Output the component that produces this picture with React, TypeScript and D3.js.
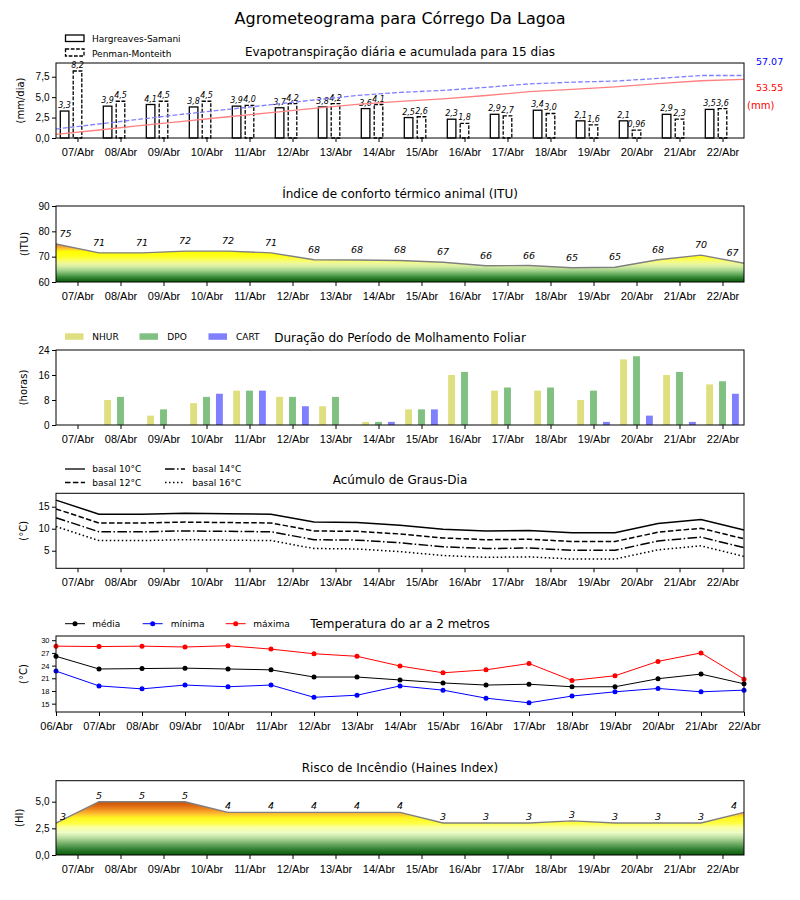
import React, { useRef, useEffect } from 'react';
import * as d3 from 'd3';

// ---- data ----
const days = ['07/Abr', '08/Abr', '09/Abr', '10/Abr', '11/Abr', '12/Abr', '13/Abr', '14/Abr',
    '15/Abr', '16/Abr', '17/Abr', '18/Abr', '19/Abr', '20/Abr', '21/Abr', '22/Abr'];
const tempDays = ['06/Abr', ...days];

const etHargreaves = [3.3, 3.9, 4.1, 3.8, 3.9, 3.7, 3.8, 3.6, 2.5, 2.3, 2.9, 3.4, 2.1, 2.1, 2.9, 3.5];
const etPenman = [8.2, 4.5, 4.5, 4.5, 4.0, 4.2, 4.2, 4.1, 2.6, 1.8, 2.7, 3.0, 1.6, 0.96, 2.3, 3.6];
const accHargreaves = [3.4, 7.3, 11.5, 15.4, 19.4, 23.2, 27.1, 30.8, 33.4, 35.8, 38.8, 42.3, 44.5, 46.7, 49.7, 52.3, 53.55];
const accPenman = [8.2, 12.8, 17.4, 22.0, 26.1, 30.4, 34.7, 38.9, 41.6, 43.5, 46.3, 49.4, 51.0, 52.0, 54.4, 57.07, 57.07];
const accLabels = ['57.07', '53.55'];

const ituValues = [75.0, 71.5, 71.5, 72.2, 72.2, 71.5, 68.8, 68.7, 68.5, 67.8, 66.4, 66.5, 65.6, 65.8, 68.8, 70.6, 67.4];
const ituLabels = ['75', '71', '71', '72', '72', '71', '68', '68', '68', '67', '66', '66', '65', '65', '68', '70', '67'];

const wetNHUR = [0, 8, 3, 7, 11, 9, 6, 1, 5, 16, 11, 11, 8, 21, 16, 13];
const wetDPO = [0, 9, 5, 9, 11, 9, 9, 1, 5, 17, 12, 12, 11, 22, 17, 14];
const wetCART = [0, 0, 0, 10, 11, 6, 0, 1, 5, 0, 0, 0, 1, 3, 1, 10];

const gdBasal10 = [16.5, 13.3, 13.3, 13.5, 13.4, 13.3, 11.5, 11.4, 10.8, 9.9, 9.5, 9.6, 9.1, 9.1, 11.2, 12.1, 9.7];
const gdBasal12 = [14.5, 11.3, 11.3, 11.5, 11.4, 11.3, 9.5, 9.4, 8.8, 7.9, 7.5, 7.6, 7.1, 7.1, 9.2, 10.1, 7.7];
const gdBasal14 = [12.5, 9.3, 9.3, 9.5, 9.4, 9.3, 7.5, 7.4, 6.8, 5.9, 5.5, 5.6, 5.1, 5.1, 7.2, 8.1, 5.7];
const gdBasal16 = [10.5, 7.3, 7.3, 7.5, 7.4, 7.3, 5.5, 5.4, 4.8, 3.9, 3.5, 3.6, 3.1, 3.1, 5.2, 6.1, 3.7];

const tMean = [26.2, 23.2, 23.3, 23.4, 23.2, 23.0, 21.3, 21.3, 20.6, 19.9, 19.4, 19.6, 19.0, 19.0, 20.9, 22.0, 19.7];
const tMin = [22.7, 19.2, 18.5, 19.4, 19.0, 19.4, 16.5, 17.0, 19.2, 18.2, 16.3, 15.2, 16.8, 17.8, 18.6, 17.8, 18.2];
const tMax = [28.6, 28.5, 28.6, 28.4, 28.7, 27.9, 26.8, 26.2, 23.9, 22.3, 23.0, 24.5, 20.5, 21.6, 25.0, 27.0, 20.8];

const haines = [3.0, 5.0, 5.0, 5.0, 4.0, 4.0, 4.0, 4.0, 4.0, 3.0, 3.0, 3.0, 3.2, 3.0, 3.0, 3.0, 4.0];
const hainesLabels = ['3', '5', '5', '5', '4', '4', '4', '4', '4', '3', '3', '3', '3', '3', '3', '3', '4'];

// colour ramps (value -> colour)
const ituStops: [number, string][] = [
    [60, '#0b5e0b'], [61, '#1f701f'], [62, '#3c8c3a'], [63, '#62a95c'], [64, '#8cc47e'],
    [65, '#b2db94'], [66, '#d2eca2'], [67, '#e8f6a2'], [68, '#f4fb80'], [69, '#fbfd50'],
    [70, '#ffff20'], [72, '#ffff00'], [73, '#ffcc30'], [74, '#f8a030'], [75, '#ee7a1c']];
const hainesStops: [number, string][] = [
    [0, '#0a5a0a'], [0.5, '#2e7d2e'], [1.0, '#6aa860'], [1.6, '#b8dca0'], [2.1, '#eefcc8'],
    [2.6, '#faffa0'], [3.0, '#ffff40'], [3.5, '#fff520'], [3.8, '#ffc830'], [4.1, '#f8a028'],
    [4.5, '#e47418'], [5.0, '#c84c00']];

const X0 = 56, X1 = 744;
const FONT = 'DejaVu Sans, sans-serif';
const commaFmt = (d: number) => d3.format('.1f')(d).replace('.', ',');
const barFmt = (d: number) => d3.format('.2r')(d).replace('.', ',');

export default function App() {
    const svgRef = useRef<SVGSVGElement>(null);

    useEffect(() => {
        if (!svgRef.current) return;
        const svg = d3.select(svgRef.current);
        svg.selectAll('*').remove();
        svg.attr('font-family', FONT);
        const defs = svg.append('defs');

        const xDay = d3.scaleLinear().domain([-0.5, 15.5]).range([X0, X1]);
        const xPt = d3.scaleLinear().domain([0, 16]).range([X0, X1]);
        const unit = xDay(1) - xDay(0);

        const frame = (top: number, bottom: number) => {
            svg.append('rect')
                .attr('x', X0).attr('y', top)
                .attr('width', X1 - X0).attr('height', bottom - top)
                .attr('fill', 'none').attr('stroke', '#000').attr('stroke-width', 1);
        };

        const xAxis = (scale: d3.ScaleLinear<number, number>, labels: string[], bottom: number) => {
            const a = svg.append('g')
                .attr('transform', `translate(0,${bottom})`)
                .call(d3.axisBottom(scale).tickValues(d3.range(labels.length))
                    .tickFormat((_, i) => labels[i]).tickSize(4).tickSizeOuter(0).tickPadding(6));
            a.select('.domain').remove();
            a.selectAll('text').attr('font-size', 11).attr('fill', '#000');
            a.selectAll('line').attr('stroke', '#000');
        };

        const yAxis = (scale: d3.ScaleLinear<number, number>, ticks: number[], fmt: (d: number) => string, size: number) => {
            const a = svg.append('g')
                .attr('transform', `translate(${X0},0)`)
                .call(d3.axisLeft(scale).tickValues(ticks).tickFormat(d => fmt(d as number))
                    .tickSize(4).tickSizeOuter(0).tickPadding(2.5));
            a.select('.domain').remove();
            a.selectAll('text').attr('font-size', size).attr('fill', '#000');
            a.selectAll('line').attr('stroke', '#000');
        };

        const title = (text: string, y: number) => {
            svg.append('text').attr('x', 400).attr('y', y).attr('text-anchor', 'middle')
                .attr('font-size', 12).text(text);
        };

        const yLabel = (text: string, x: number, top: number, bottom: number) => {
            svg.append('text')
                .attr('transform', `translate(${x},${(top + bottom) / 2}) rotate(-90)`)
                .attr('text-anchor', 'middle').attr('dominant-baseline', 'central')
                .attr('font-size', 10).text(text);
        };

        const gradient = (id: string, scale: d3.ScaleLinear<number, number>, stops: [number, string][]) => {
            const [d0, d1] = scale.domain();
            const lg = defs.append('linearGradient').attr('id', id)
                .attr('gradientUnits', 'userSpaceOnUse')
                .attr('x1', 0).attr('x2', 0)
                .attr('y1', scale(d0)).attr('y2', scale(d1));
            stops.forEach(([v, c]) => {
                lg.append('stop').attr('offset', (v - d0) / (d1 - d0)).attr('stop-color', c);
            });
        };

        // main title
        svg.append('text').attr('x', 400).attr('y', 24).attr('text-anchor', 'middle')
            .attr('font-size', 16).text('Agrometeograma para Córrego Da Lagoa');

        // ---------- Panel 1: evapotranspiração ----------
        {
            const top = 63, bottom = 138;
            const y = d3.scaleLinear().domain([0, 9.18]).range([bottom, top]);
            const yAcc = d3.scaleLinear().domain([0, 68.5]).range([bottom, top]);
            const bw = unit * 0.2;

            const bars = (vals: number[], off: number, dash: string | null) => {
                svg.append('g').selectAll('rect').data(vals).join('rect')
                    .attr('x', (_, i) => xDay(i + off) - bw / 2)
                    .attr('y', d => y(d))
                    .attr('width', bw)
                    .attr('height', d => bottom - y(d))
                    .attr('fill', 'none').attr('stroke', '#000').attr('stroke-width', 1.3)
                    .attr('stroke-dasharray', dash);
                svg.append('g').selectAll('text').data(vals).join('text')
                    .attr('x', (_, i) => xDay(i + off))
                    .attr('y', d => y(d) - 3)
                    .attr('text-anchor', 'middle')
                    .attr('font-size', 8).attr('font-style', 'italic')
                    .text(d => barFmt(d));
            };
            bars(etHargreaves, -0.3, null);
            bars(etPenman, 0, '3.7,1.6');

            const line = (vals: number[]) => d3.line<number>().x((_, i) => xPt(i)).y(d => yAcc(d))(vals);
            svg.append('path').attr('d', line(accHargreaves)).attr('fill', 'none')
                .attr('stroke', '#ff8080').attr('stroke-width', 1.3);
            svg.append('path').attr('d', line(accPenman)).attr('fill', 'none')
                .attr('stroke', '#8080ff').attr('stroke-width', 1.3).attr('stroke-dasharray', '4.8,2.1');

            frame(top, bottom);
            xAxis(xDay, days, bottom);
            yAxis(y, [0, 2.5, 5, 7.5], commaFmt, 10);
            yLabel('(mm/dia)', 20, top, bottom);
            title('Evapotranspiração diária e acumulada para 15 dias', 56);

            svg.append('text').attr('x', 756).attr('y', 65).attr('font-size', 9.5).attr('fill', '#0000ff').text(accLabels[0]);
            svg.append('text').attr('x', 756).attr('y', 91).attr('font-size', 9.5).attr('fill', '#ff0000').text(accLabels[1]);
            svg.append('text').attr('x', 747).attr('y', 109).attr('font-size', 10).attr('fill', '#ff0000').text('(mm)');

            // legend
            svg.append('rect').attr('x', 65.5).attr('y', 35).attr('width', 18.5).attr('height', 6.5)
                .attr('fill', 'none').attr('stroke', '#000').attr('stroke-width', 1.3);
            svg.append('rect').attr('x', 65.5).attr('y', 49).attr('width', 18.5).attr('height', 7)
                .attr('fill', 'none').attr('stroke', '#000').attr('stroke-width', 1.3).attr('stroke-dasharray', '3.7,1.6');
            svg.append('text').attr('x', 92).attr('y', 41.5).attr('font-size', 9).text('Hargreaves-Samani');
            svg.append('text').attr('x', 92).attr('y', 56.5).attr('font-size', 9).text('Penman-Monteith');
        }

        // ---------- Panel 2: ITU ----------
        {
            const top = 206, bottom = 282;
            const y = d3.scaleLinear().domain([60, 90]).range([bottom, top]);
            gradient('gradITU', d3.scaleLinear().domain([60, 75]).range([y(60), y(75)]), ituStops);
            const area = d3.area<number>().x((_, i) => xPt(i)).y0(bottom).y1(d => y(d));
            svg.append('path').attr('d', area(ituValues)).attr('fill', 'url(#gradITU)');
            svg.append('path').attr('d', d3.line<number>().x((_, i) => xPt(i)).y(d => y(d))(ituValues))
                .attr('fill', 'none').attr('stroke', '#808080').attr('stroke-width', 1.4);
            svg.append('g').selectAll('text').data(ituValues).join('text')
                .attr('x', (_, i) => i === 0 ? xPt(i) + 3.5 : i === ituValues.length - 1 ? xPt(i) - 5.5 : xPt(i))
                .attr('y', d => y(d) - 7)
                .attr('text-anchor', (_, i) => i === 0 ? 'start' : i === ituValues.length - 1 ? 'end' : 'middle')
                .attr('font-size', 9.5).attr('font-style', 'italic')
                .text((_, i) => ituLabels[i]);
            frame(top, bottom);
            xAxis(xDay, days, bottom);
            yAxis(y, [60, 70, 80, 90], d => String(d), 10);
            yLabel('(ITU)', 24, top, bottom);
            title('Índice de conforto térmico animal (ITU)', 198);
        }

        // ---------- Panel 3: molhamento foliar ----------
        {
            const top = 350, bottom = 425;
            const y = d3.scaleLinear().domain([0, 24]).range([bottom, top]);
            const bw = unit * 0.16;
            const series: [number[], number, string][] = [
                [wetNHUR, -0.3, '#dfdf80'], [wetDPO, 0, '#80c080'], [wetCART, 0.3, '#8080ff']];
            series.forEach(([vals, off, color]) => {
                svg.append('g').selectAll('rect').data(vals).join('rect')
                    .attr('x', (_, i) => xDay(i + off) - bw / 2)
                    .attr('y', d => y(d))
                    .attr('width', bw)
                    .attr('height', d => bottom - y(d))
                    .attr('fill', color);
            });
            frame(top, bottom);
            xAxis(xDay, days, bottom);
            yAxis(y, [0, 8, 16, 24], d => String(d), 10);
            yLabel('(horas)', 23, top, bottom);
            title('Duração do Período de Molhamento Foliar', 341.5);

            const legend: [string, string, number, number][] = [
                ['NHUR', '#dfdf80', 65, 92.3], ['DPO', '#80c080', 139.5, 167.3], ['CART', '#8080ff', 208.5, 236]];
            legend.forEach(([name, color, sx, tx]) => {
                svg.append('rect').attr('x', sx).attr('y', 333.3).attr('width', 18.5).attr('height', 6.5).attr('fill', color);
                svg.append('text').attr('x', tx).attr('y', 339.8).attr('font-size', 9).text(name);
            });
        }

        // ---------- Panel 4: graus-dia ----------
        {
            const top = 493.3, bottom = 568.3;
            const y = d3.scaleLinear().domain([1, 18.05]).range([bottom, top]);
            const series: [number[], string | null, string][] = [
                [gdBasal10, null, 'basal 10°C'], [gdBasal12, '5.5,2.4', 'basal 12°C'],
                [gdBasal14, '9.6,2.4,1.5,2.4', 'basal 14°C'], [gdBasal16, '1.5,2.5', 'basal 16°C']];
            series.forEach(([vals, dash]) => {
                svg.append('path').attr('d', d3.line<number>().x((_, i) => xPt(i)).y(d => y(d))(vals))
                    .attr('fill', 'none').attr('stroke', '#000').attr('stroke-width', 1.5)
                    .attr('stroke-dasharray', dash);
            });
            frame(top, bottom);
            xAxis(xDay, days, bottom);
            yAxis(y, [5, 10, 15], d => String(d), 10);
            yLabel('(°C)', 23.5, top, bottom);
            title('Acúmulo de Graus-Dia', 484);

            const pos = [[65, 469], [65, 482.5], [165, 469], [165, 482.5]];
            series.forEach(([, dash, name], i) => {
                const [lx, ly] = pos[i];
                svg.append('line').attr('x1', lx).attr('x2', lx + 20).attr('y1', ly).attr('y2', ly)
                    .attr('stroke', '#000').attr('stroke-width', 1.3).attr('stroke-dasharray', dash);
                svg.append('text').attr('x', lx + 27.3).attr('y', ly + 3.3).attr('font-size', 9).text(name);
            });
        }

        // ---------- Panel 5: temperatura ----------
        {
            const top = 636, bottom = 712;
            const y = d3.scaleLinear().domain([13.03, 31.0]).range([bottom, top]);
            const series: [number[], string, string, number, number][] = [
                [tMean, '#000000', 'média', 65, 92.3],
                [tMin, '#0000ff', 'mínima', 142.7, 170.7],
                [tMax, '#ff0000', 'máxima', 225.7, 253.3]];
            series.forEach(([vals, color]) => {
                svg.append('path').attr('d', d3.line<number>().x((_, i) => xPt(i)).y(d => y(d))(vals))
                    .attr('fill', 'none').attr('stroke', color).attr('stroke-width', 1);
                svg.append('g').selectAll('circle').data(vals).join('circle')
                    .attr('cx', (_, i) => xPt(i)).attr('cy', d => y(d)).attr('r', 2.5).attr('fill', color);
            });
            frame(top, bottom);
            xAxis(xPt, tempDays, bottom);
            yAxis(y, [15, 18, 21, 24, 27, 30], d => String(d), 7.5);
            yLabel('(°C)', 23.5, top, bottom);
            title('Temperatura do ar a 2 metros', 628);

            series.forEach(([, color, name, lx, tx]) => {
                svg.append('line').attr('x1', lx).attr('x2', lx + 20).attr('y1', 623.7).attr('y2', 623.7)
                    .attr('stroke', color).attr('stroke-width', 1);
                svg.append('circle').attr('cx', lx + 10).attr('cy', 623.7).attr('r', 2.5).attr('fill', color);
                svg.append('text').attr('x', tx).attr('y', 627).attr('font-size', 9).text(name);
            });
        }

        // ---------- Panel 6: Haines ----------
        {
            const top = 780.7, bottom = 855;
            const y = d3.scaleLinear().domain([0, 6.97]).range([bottom, top]);
            gradient('gradHaines', d3.scaleLinear().domain([0, 5]).range([y(0), y(5)]), hainesStops);
            const area = d3.area<number>().x((_, i) => xPt(i)).y0(bottom).y1(d => y(d));
            svg.append('path').attr('d', area(haines)).attr('fill', 'url(#gradHaines)');
            svg.append('path').attr('d', d3.line<number>().x((_, i) => xPt(i)).y(d => y(d))(haines))
                .attr('fill', 'none').attr('stroke', '#808080').attr('stroke-width', 1.4);
            svg.append('g').selectAll('text').data(haines).join('text')
                .attr('x', (_, i) => i === 0 ? xPt(i) + 4 : i === haines.length - 1 ? xPt(i) - 7 : xPt(i))
                .attr('y', d => y(d) - 3)
                .attr('text-anchor', (_, i) => i === 0 ? 'start' : i === haines.length - 1 ? 'end' : 'middle')
                .attr('font-size', 9.5).attr('font-style', 'italic')
                .text((_, i) => hainesLabels[i]);
            frame(top, bottom);
            xAxis(xDay, days, bottom);
            yAxis(y, [0, 2.5, 5], commaFmt, 10);
            yLabel('(HI)', 19.5, top, bottom);
            title('Risco de Incêndio (Haines Index)', 771.5);
        }
    }, []);

    return (
        <svg
            ref={svgRef}
            width={800}
            height={900}
            viewBox="0 0 800 900"
            style={{ position: 'absolute', left: 0, top: 0, background: '#fff' }}
        />
    );
}
